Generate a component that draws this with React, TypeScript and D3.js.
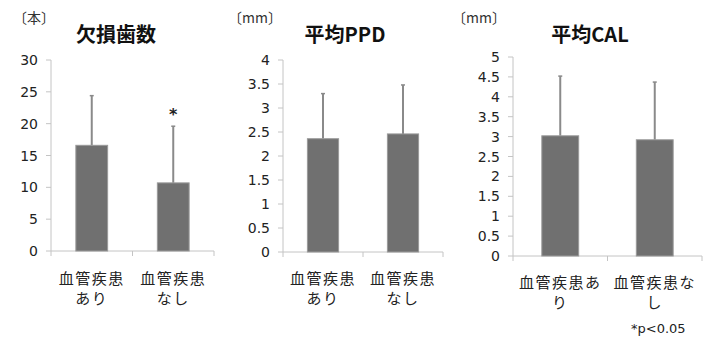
import React from "react";
import * as d3 from "d3";

const categories1 = [["血管疾患", "あり"], ["血管疾患", "なし"]];
const categories3 = [["血管疾患あ", "り"], ["血管疾患な", "し"]];
const missingMeans = [16.6, 10.7];
const missingSD = [7.8, 8.9];
const ppdMeans = [2.36, 2.46];
const ppdSD = [0.94, 1.02];
const calMeans = [3.02, 2.92];
const calSD = [1.5, 1.45];
const ticks1 = [0, 5, 10, 15, 20, 25, 30];
const ticks2 = [0, 0.5, 1, 1.5, 2, 2.5, 3, 3.5, 4];
const ticks3 = [0, 0.5, 1, 1.5, 2, 2.5, 3, 3.5, 4, 4.5, 5];
const titles = ["欠損歯数", "平均PPD", "平均CAL"];
const units = ["〔本〕", "〔mm〕", "〔mm〕"];
const sigMarks = [[false, true], [false, false], [false, false]];
const note = "*p<0.05";

const JP = "'Noto Sans CJK JP', sans-serif";
const NUM = "'DejaVu Sans', sans-serif";

type PanelProps = {
  x0: number; x1: number; yTop: number; yBottom: number; max: number;
  ticks: number[]; means: number[]; sds: number[]; cats: string[][];
  title: string; titleX: number; unit: string; unitX: number;
  sig: boolean[]; catY: number;
};

function Panel(p: PanelProps) {
  const y = d3.scaleLinear().domain([0, p.max]).range([p.yBottom, p.yTop]);
  const x = d3.scaleBand<number>().domain(p.means.map((_, i) => i)).range([p.x0, p.x1])
    .paddingInner(0.61).paddingOuter(0.305);
  const step = (p.x1 - p.x0) / p.means.length;
  const axisColor = "#c4c4c4";
  return (
    <g>
      <text x={p.unitX} y={23} fontFamily={JP} fontSize={14} fill="#333">{p.unit}</text>
      <text x={p.titleX} y={42} textAnchor="middle" fontFamily={JP} fontSize={20} fontWeight="bold" fill="#111">{p.title}</text>
      <line x1={p.x0} x2={p.x0} y1={p.yTop} y2={p.yBottom} stroke={axisColor} strokeWidth={1} />
      <line x1={p.x0} x2={p.x1} y1={p.yBottom} y2={p.yBottom} stroke={axisColor} strokeWidth={1} />
      {p.ticks.map((t) => (
        <g key={t}>
          <line x1={p.x0 - 5} x2={p.x0} y1={y(t)} y2={y(t)} stroke={axisColor} />
          <text x={p.x0 - 13} y={y(t)} dy="0.36em" textAnchor="end" fontFamily={NUM} fontSize={14} fill="#222">{String(t)}</text>
        </g>
      ))}
      {d3.range(p.means.length + 1).map((i) => (
        <line key={i} x1={p.x0 + i * step} x2={p.x0 + i * step} y1={p.yBottom} y2={p.yBottom + 5} stroke={axisColor} />
      ))}
      {p.means.map((m, i) => {
        const bx = x(i)!;
        const bw = x.bandwidth();
        const cx = bx + bw / 2;
        const top = y(m + p.sds[i]);
        return (
          <g key={i}>
            <line x1={cx} x2={cx} y1={y(m)} y2={top} stroke="#8a8a8a" strokeWidth={2} />
            <line x1={cx - 2} x2={cx + 2} y1={top} y2={top} stroke="#8a8a8a" strokeWidth={1.5} />
            <rect x={bx} y={y(m)} width={bw} height={p.yBottom - y(m)} fill="#707070" stroke="#9a9a9a" strokeWidth={1} />
            {p.sig[i] && (
              <text x={cx} y={top - 6} textAnchor="middle" fontFamily={NUM} fontSize={16} fontWeight="bold" fill="#222">*</text>
            )}
            {p.cats[i].map((line, j) => (
              <text key={j} x={p.x0 + (i + 0.5) * step} y={p.catY + j * 20} textAnchor="middle" fontFamily={JP}
                fontSize={15} letterSpacing={1.5} fill="#222">{line}</text>
            ))}
          </g>
        );
      })}
    </g>
  );
}

export default function App() {
  return (
    <svg width={704} height={350} style={{ display: "block", position: "absolute", left: 0, top: 0, background: "#fff" }}>
      <Panel x0={51} x1={214} yTop={60} yBottom={251} max={30} ticks={ticks1} means={missingMeans} sds={missingSD}
        cats={categories1} title={titles[0]} titleX={116} unit={units[0]} unitX={13} sig={sigMarks[0]} catY={284} />
      <Panel x0={283} x1={443} yTop={60} yBottom={252} max={4} ticks={ticks2} means={ppdMeans} sds={ppdSD}
        cats={categories1} title={titles[1]} titleX={345} unit={units[1]} unitX={228} sig={sigMarks[1]} catY={284} />
      <Panel x0={513} x1={702} yTop={57} yBottom={256} max={5} ticks={ticks3} means={calMeans} sds={calSD}
        cats={categories3} title={titles[2]} titleX={590} unit={units[2]} unitX={452} sig={sigMarks[2]} catY={288} />
      <text x={631} y={333} fontFamily={NUM} fontSize={13} fill="#222">{note}</text>
    </svg>
  );
}
